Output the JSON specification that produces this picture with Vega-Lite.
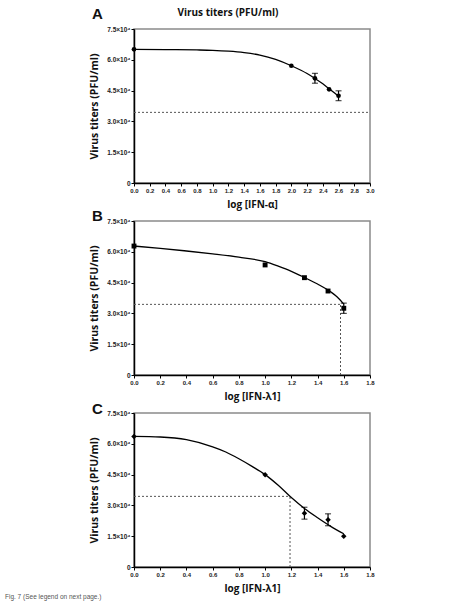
{
  "$schema": "https://vega.github.io/schema/vega-lite/v6.json",
  "padding": {"left": 4, "top": 6, "right": 0, "bottom": 0},
  "background": "white",
  "config": {
    "view": {"stroke": "#8a8a8a", "strokeWidth": 1.5},
    "axis": {
      "grid": false,
      "domainColor": "black",
      "domainWidth": 1.5,
      "tickColor": "black",
      "tickWidth": 1,
      "tickSize": 3,
      "labelFlush": false,
      "labelFont": "Liberation Sans",
      "labelFontWeight": "bold",
      "labelFontSize": 6,
      "labelColor": "#222",
      "labelPadding": 1,
      "titleFont": "Open Sans",
      "titleFontWeight": "bold",
      "titleFontSize": 10,
      "titleColor": "#111"
    },
    "axisY": {"labelFontSize": 6.5, "titleFontSize": 10.5, "titlePadding": 7},
    "axisX": {"titlePadding": 6},
    "title": {"font": "Liberation Sans", "fontWeight": "bold", "color": "#111"}
  },
  "datasets": {
    "curveA": [
      {"x": 0, "y": 65100}, {"x": 0.4, "y": 65000}, {"x": 0.8, "y": 64800}, {"x": 1.0, "y": 64600},
      {"x": 1.2, "y": 64200}, {"x": 1.4, "y": 63500}, {"x": 1.6, "y": 62300}, {"x": 1.8, "y": 60200},
      {"x": 2.0, "y": 57100}, {"x": 2.2, "y": 53300}, {"x": 2.3, "y": 50900}, {"x": 2.4, "y": 48300},
      {"x": 2.5, "y": 45300}, {"x": 2.6, "y": 42300}
    ],
    "pointsA": [
      {"x": 0, "y": 65100}, {"x": 2.0, "y": 57100}, {"x": 2.3, "y": 51000}, {"x": 2.48, "y": 45600}, {"x": 2.6, "y": 42500}
    ],
    "errA": [
      {"x": 2.3, "lo": 48600, "hi": 53400}, {"x": 2.6, "lo": 40100, "hi": 44900}
    ],
    "dashA": [
      {"x": 0, "x2": 3.0, "y": 34400, "y2": 34400}
    ],
    "curveB": [
      {"x": 0, "y": 62800}, {"x": 0.2, "y": 61700}, {"x": 0.4, "y": 60400}, {"x": 0.6, "y": 59000},
      {"x": 0.8, "y": 57400}, {"x": 1.0, "y": 55200}, {"x": 1.1, "y": 53000}, {"x": 1.2, "y": 50500},
      {"x": 1.3, "y": 47500}, {"x": 1.4, "y": 44300}, {"x": 1.5, "y": 40500}, {"x": 1.55, "y": 38000},
      {"x": 1.6, "y": 34500}
    ],
    "pointsB": [
      {"x": 0, "y": 62800}, {"x": 1.0, "y": 53600}, {"x": 1.3, "y": 47400}, {"x": 1.48, "y": 40900}, {"x": 1.6, "y": 32500}
    ],
    "errB": [
      {"x": 1.6, "lo": 30000, "hi": 35000}
    ],
    "dashB": [
      {"x": 0, "x2": 1.575, "y": 34400, "y2": 34400},
      {"x": 1.575, "x2": 1.575, "y": 0, "y2": 34400}
    ],
    "curveC": [
      {"x": 0, "y": 63600}, {"x": 0.2, "y": 63300}, {"x": 0.4, "y": 62000}, {"x": 0.6, "y": 58500},
      {"x": 0.7, "y": 56000}, {"x": 0.8, "y": 52700}, {"x": 0.9, "y": 49000}, {"x": 1.0, "y": 45000},
      {"x": 1.1, "y": 39800}, {"x": 1.2, "y": 33800}, {"x": 1.3, "y": 28500}, {"x": 1.4, "y": 24000},
      {"x": 1.5, "y": 19800}, {"x": 1.6, "y": 16200}
    ],
    "pointsC": [
      {"x": 0, "y": 63600}, {"x": 1.0, "y": 44900}, {"x": 1.3, "y": 26200}, {"x": 1.48, "y": 23000}, {"x": 1.6, "y": 15000}
    ],
    "errC": [
      {"x": 1.3, "lo": 23300, "hi": 29100}, {"x": 1.48, "lo": 20100, "hi": 25900}
    ],
    "dashC": [
      {"x": 0, "x2": 1.19, "y": 34400, "y2": 34400},
      {"x": 1.19, "x2": 1.19, "y": 0, "y2": 34400}
    ]
  },
  "title": {
    "text": "Fig. 7 (See legend on next page.)",
    "orient": "bottom",
    "anchor": "start",
    "frame": "bounds",
    "dx": -84,
    "offset": 0,
    "fontSize": 6.5,
    "fontWeight": "normal",
    "font": "Liberation Sans",
    "color": "#555"
  },
  "vconcat": [
    {
      "title": {"text": "Virus titers (PFU/ml)", "anchor": "middle", "offset": -12, "dx": -4, "font": "Open Sans", "fontSize": 10, "fontWeight": "bold"},
      "spacing": -2,
      "vconcat": [
        {
          "width": 236, "height": 154,
          "title": {"text": "A", "anchor": "start", "frame": "group", "dx": -42, "offset": 4, "fontSize": 15},
          "encoding": {
            "x": {"field": "x", "type": "quantitative", "scale": {"domain": [0, 3], "nice": false},
              "axis": {"title": "log [IFN-α]", "values": [0, 0.2, 0.4, 0.6, 0.8, 1.0, 1.2, 1.4, 1.6, 1.8, 2.0, 2.2, 2.4, 2.6, 2.8, 3.0], "format": ".1f"}},
            "y": {"field": "y", "type": "quantitative", "scale": {"domain": [0, 75000], "nice": false},
              "axis": {"title": "Virus titers (PFU/ml)", "values": [0, 15000, 30000, 45000, 60000, 75000], "labelExpr": "datum.value == 0 ? '0' : format(datum.value / 10000, '.1f') + '×10⁴'"}}
          },
          "layer": [
            {
              "data": {"name": "dashA"},
              "mark": {"type": "rule", "strokeDash": [2, 2], "color": "#555", "strokeWidth": 1},
              "encoding": {"x2": {"field": "x2"}, "y2": {"field": "y2"}}
            },
            {
              "data": {"name": "curveA"},
              "mark": {"type": "line", "interpolate": "monotone", "color": "black", "strokeWidth": 1.3},
              "encoding": {}
            },
            {
              "data": {"name": "errA"},
              "mark": {"type": "rule", "color": "black", "strokeWidth": 1.2},
              "encoding": {
                "y": {"field": "lo", "type": "quantitative", "scale": {"domain": [0, 75000], "nice": false}},
                "y2": {"field": "hi"}
              }
            },
            {
              "data": {"name": "errA"},
              "mark": {"type": "tick", "orient": "horizontal", "color": "black", "size": 6, "thickness": 1.2},
              "encoding": {"y": {"field": "lo", "type": "quantitative", "scale": {"domain": [0, 75000], "nice": false}}}
            },
            {
              "data": {"name": "errA"},
              "mark": {"type": "tick", "orient": "horizontal", "color": "black", "size": 6, "thickness": 1.2},
              "encoding": {"y": {"field": "hi", "type": "quantitative", "scale": {"domain": [0, 75000], "nice": false}}}
            },
            {
              "data": {"name": "pointsA"},
              "mark": {"type": "point", "shape": "circle", "filled": true, "color": "black", "size": 22, "opacity": 1},
              "encoding": {}
            }
          ]
        },
        {
          "width": 236, "height": 154,
          "title": {"text": "B", "anchor": "start", "frame": "group", "dx": -42, "offset": -6, "fontSize": 15},
          "encoding": {
            "x": {"field": "x", "type": "quantitative", "scale": {"domain": [0, 1.8], "nice": false},
              "axis": {"title": "log [IFN-λ1]", "values": [0, 0.2, 0.4, 0.6, 0.8, 1.0, 1.2, 1.4, 1.6, 1.8], "format": ".1f"}},
            "y": {"field": "y", "type": "quantitative", "scale": {"domain": [0, 75000], "nice": false},
              "axis": {"title": "Virus titers (PFU/ml)", "values": [0, 15000, 30000, 45000, 60000, 75000], "labelExpr": "datum.value == 0 ? '0' : format(datum.value / 10000, '.1f') + '×10⁴'"}}
          },
          "layer": [
            {
              "data": {"name": "dashB"},
              "mark": {"type": "rule", "strokeDash": [2, 2], "color": "#555", "strokeWidth": 1},
              "encoding": {"x2": {"field": "x2"}, "y2": {"field": "y2"}}
            },
            {
              "data": {"name": "curveB"},
              "mark": {"type": "line", "interpolate": "monotone", "color": "black", "strokeWidth": 1.3},
              "encoding": {}
            },
            {
              "data": {"name": "errB"},
              "mark": {"type": "rule", "color": "black", "strokeWidth": 1.2},
              "encoding": {
                "y": {"field": "lo", "type": "quantitative", "scale": {"domain": [0, 75000], "nice": false}},
                "y2": {"field": "hi"}
              }
            },
            {
              "data": {"name": "errB"},
              "mark": {"type": "tick", "orient": "horizontal", "color": "black", "size": 6, "thickness": 1.2},
              "encoding": {"y": {"field": "lo", "type": "quantitative", "scale": {"domain": [0, 75000], "nice": false}}}
            },
            {
              "data": {"name": "errB"},
              "mark": {"type": "tick", "orient": "horizontal", "color": "black", "size": 6, "thickness": 1.2},
              "encoding": {"y": {"field": "hi", "type": "quantitative", "scale": {"domain": [0, 75000], "nice": false}}}
            },
            {
              "data": {"name": "pointsB"},
              "mark": {"type": "point", "shape": "square", "filled": true, "color": "black", "size": 24, "opacity": 1},
              "encoding": {}
            }
          ]
        },
        {
          "width": 236, "height": 154,
          "title": {"text": "C", "anchor": "start", "frame": "group", "dx": -42, "offset": -6.5, "fontSize": 15},
          "encoding": {
            "x": {"field": "x", "type": "quantitative", "scale": {"domain": [0, 1.8], "nice": false},
              "axis": {"title": "log [IFN-λ1]", "values": [0, 0.2, 0.4, 0.6, 0.8, 1.0, 1.2, 1.4, 1.6, 1.8], "format": ".1f"}},
            "y": {"field": "y", "type": "quantitative", "scale": {"domain": [0, 75000], "nice": false},
              "axis": {"title": "Virus titers (PFU/ml)", "values": [0, 15000, 30000, 45000, 60000, 75000], "labelExpr": "datum.value == 0 ? '0' : format(datum.value / 10000, '.1f') + '×10⁴'"}}
          },
          "layer": [
            {
              "data": {"name": "dashC"},
              "mark": {"type": "rule", "strokeDash": [2, 2], "color": "#555", "strokeWidth": 1},
              "encoding": {"x2": {"field": "x2"}, "y2": {"field": "y2"}}
            },
            {
              "data": {"name": "curveC"},
              "mark": {"type": "line", "interpolate": "monotone", "color": "black", "strokeWidth": 1.3},
              "encoding": {}
            },
            {
              "data": {"name": "errC"},
              "mark": {"type": "rule", "color": "black", "strokeWidth": 1.2},
              "encoding": {
                "y": {"field": "lo", "type": "quantitative", "scale": {"domain": [0, 75000], "nice": false}},
                "y2": {"field": "hi"}
              }
            },
            {
              "data": {"name": "errC"},
              "mark": {"type": "tick", "orient": "horizontal", "color": "black", "size": 6, "thickness": 1.2},
              "encoding": {"y": {"field": "lo", "type": "quantitative", "scale": {"domain": [0, 75000], "nice": false}}}
            },
            {
              "data": {"name": "errC"},
              "mark": {"type": "tick", "orient": "horizontal", "color": "black", "size": 6, "thickness": 1.2},
              "encoding": {"y": {"field": "hi", "type": "quantitative", "scale": {"domain": [0, 75000], "nice": false}}}
            },
            {
              "data": {"name": "pointsC"},
              "mark": {"type": "point", "shape": "diamond", "filled": true, "color": "black", "size": 30, "opacity": 1},
              "encoding": {}
            }
          ]
        }
      ]
    }
  ]
}
